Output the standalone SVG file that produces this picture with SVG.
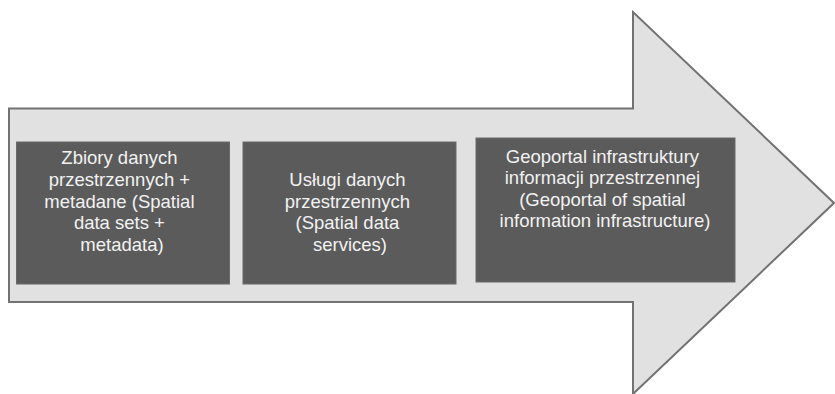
<svg xmlns="http://www.w3.org/2000/svg" width="835" height="394" viewBox="0 0 835 394">
  <style>
    .arrow { fill: #e1e1e1; stroke: #727272; stroke-width: 2; stroke-linejoin: miter; }
    .box { fill: #5b5b5b; stroke: #6a6a6a; stroke-width: 1; }
    .label { font-family: "Liberation Sans", Arial, sans-serif; font-size: 18.5px; fill: #f2f2f2; text-anchor: middle; }
  </style>
  <rect width="835" height="394" fill="#ffffff"/>

  <!-- Large block arrow -->
  <g id="arrow">
    <polygon class="arrow" points="9,108.5 633,108.5 633,12 834,203 633,394 633,302 9,302"/>
  </g>

  <!-- Stages -->
  <g id="stage1">
    <rect class="box" x="16.5" y="142" width="213" height="142"/>
    <text class="label">
      <tspan x="122" y="164">Zbiory danych</tspan>
      <tspan x="122" y="186">przestrzennych +</tspan>
      <tspan x="122" y="208">metadane (Spatial</tspan>
      <tspan x="122" y="229">data sets +</tspan>
      <tspan x="122" y="251">metadata)</tspan>
    </text>
  </g>

  <g id="stage2">
    <rect class="box" x="243" y="142" width="213" height="142"/>
    <text class="label">
      <tspan x="350" y="186">Usługi danych</tspan>
      <tspan x="350" y="208">przestrzennych</tspan>
      <tspan x="350" y="229">(Spatial data</tspan>
      <tspan x="350" y="251">services)</tspan>
    </text>
  </g>

  <g id="stage3">
    <rect class="box" x="476" y="138" width="259" height="144"/>
    <text class="label">
      <tspan x="605" y="163">Geoportal infrastruktury</tspan>
      <tspan x="605" y="184">informacji przestrzennej</tspan>
      <tspan x="605" y="206">(Geoportal of spatial</tspan>
      <tspan x="605" y="227">information infrastructure)</tspan>
    </text>
  </g>
</svg>
